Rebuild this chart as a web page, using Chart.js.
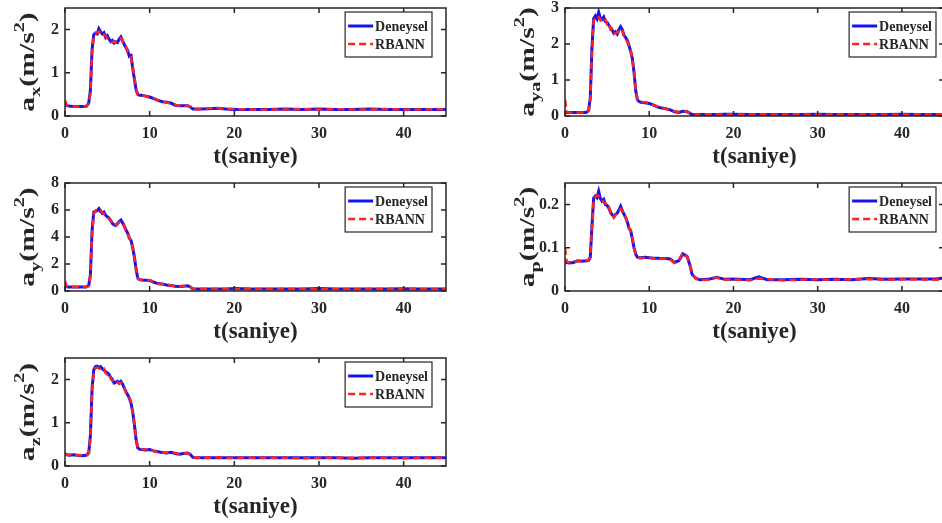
<!DOCTYPE html>
<html>
<head>
<meta charset="utf-8">
<script src="https://cdn.jsdelivr.net/npm/chart.js@4.4.1/dist/chart.umd.min.js"></script>
<style>
  html, body { margin: 0; padding: 0; background: #fff; }
  body { width: 942px; height: 523px; overflow: hidden; position: relative; }
  .panel { position: absolute; }
</style>
</head>
<body>
<div class="panel" style="left:0;top:0"><canvas id="axChart" width="460" height="175"></canvas></div>
<div class="panel" style="left:0;top:175px"><canvas id="ayChart" width="460" height="175"></canvas></div>
<div class="panel" style="left:0;top:350px"><canvas id="azChart" width="460" height="173"></canvas></div>
<div class="panel" style="left:480px;top:0"><canvas id="ayaChart" width="480" height="175"></canvas></div>
<div class="panel" style="left:480px;top:175px"><canvas id="apChart" width="480" height="175"></canvas></div>
<script>
// time axis (s), shared by all panels
const time = [
    0, 0.2, 0.5, 1, 1.5, 2, 2.5, 2.8,
    3.0, 3.2, 3.4, 3.6, 3.8, 4.0, 4.2, 4.4,
    4.6, 4.8, 5.0, 5.2, 5.4, 5.6, 5.8, 6.0,
    6.2, 6.4, 6.6, 6.8, 7.0, 7.2, 7.4, 7.6,
    7.8, 8.0, 8.2, 8.4, 8.6, 8.8, 9.0, 9.5,
    10, 10.5, 11, 11.5, 12, 12.5, 13, 13.5,
    14, 14.5, 14.8, 15.1, 15.5, 16, 17, 18,
    19, 20, 22, 23, 24, 26, 28, 30,
    32, 34, 36, 38, 40, 42, 44, 45
];

const axDeneysel = [
    0.30, 0.24, 0.23, 0.22, 0.22, 0.22, 0.22, 0.30,
    0.60, 1.55, 1.88, 1.92, 1.90, 2.02, 1.95, 1.90,
    1.93, 1.82, 1.86, 1.78, 1.72, 1.75, 1.69, 1.72,
    1.70, 1.78, 1.83, 1.74, 1.66, 1.58, 1.52, 1.38,
    1.40, 1.10, 0.85, 0.60, 0.50, 0.48, 0.48, 0.46,
    0.44, 0.40, 0.36, 0.33, 0.32, 0.30, 0.25, 0.24,
    0.24, 0.24, 0.21, 0.16, 0.16, 0.16, 0.17, 0.18,
    0.16, 0.15, 0.15, 0.15, 0.15, 0.16, 0.15, 0.16,
    0.15, 0.15, 0.16, 0.15, 0.15, 0.15, 0.15, 0.15
];
const axRbann = [
    0.36, 0.25, 0.23, 0.22, 0.22, 0.21, 0.22, 0.28,
    0.55, 1.50, 1.85, 1.90, 1.95, 1.96, 1.92, 1.94,
    1.88, 1.85, 1.80, 1.75, 1.74, 1.70, 1.72, 1.70,
    1.73, 1.75, 1.80, 1.76, 1.63, 1.60, 1.48, 1.42,
    1.35, 1.15, 0.88, 0.62, 0.51, 0.48, 0.47, 0.47,
    0.42, 0.41, 0.35, 0.34, 0.31, 0.29, 0.26, 0.24,
    0.25, 0.23, 0.22, 0.17, 0.15, 0.16, 0.18, 0.18,
    0.16, 0.16, 0.15, 0.14, 0.15, 0.15, 0.16, 0.15,
    0.16, 0.15, 0.15, 0.16, 0.15, 0.15, 0.16, 0.15
];

const ayDeneysel = [
    0.40, 0.32, 0.30, 0.30, 0.30, 0.30, 0.30, 0.40,
    1.20, 4.50, 5.85, 5.90, 5.95, 6.10, 5.90, 5.75,
    5.85, 5.60, 5.50, 5.40, 5.20, 5.00, 4.90, 4.85,
    5.00, 5.15, 5.26, 5.05, 4.80, 4.52, 4.30, 3.90,
    3.75, 3.20, 2.50, 1.60, 0.95, 0.85, 0.82, 0.80,
    0.78, 0.65, 0.55, 0.52, 0.45, 0.40, 0.35, 0.34,
    0.36, 0.38, 0.30, 0.15, 0.14, 0.14, 0.14, 0.15,
    0.15, 0.18, 0.15, 0.14, 0.14, 0.15, 0.14, 0.18,
    0.14, 0.14, 0.15, 0.15, 0.17, 0.14, 0.14, 0.14
];
const ayRbann = [
    0.75, 0.34, 0.30, 0.29, 0.30, 0.30, 0.29, 0.36,
    1.10, 4.30, 5.70, 5.95, 5.85, 5.95, 6.00, 5.80,
    5.70, 5.65, 5.45, 5.35, 5.25, 5.05, 4.85, 4.90,
    4.95, 5.10, 5.15, 5.00, 4.85, 4.45, 4.20, 3.95,
    3.70, 3.30, 2.45, 1.65, 0.98, 0.84, 0.83, 0.82,
    0.80, 0.66, 0.54, 0.50, 0.46, 0.40, 0.36, 0.33,
    0.37, 0.36, 0.31, 0.16, 0.14, 0.15, 0.14, 0.15,
    0.14, 0.15, 0.14, 0.15, 0.15, 0.14, 0.15, 0.15,
    0.15, 0.14, 0.14, 0.15, 0.15, 0.15, 0.14, 0.15
];

const azDeneysel = [
    0.28, 0.26, 0.25, 0.26, 0.25, 0.24, 0.25, 0.30,
    0.70, 1.80, 2.23, 2.30, 2.31, 2.28, 2.30, 2.25,
    2.22, 2.18, 2.16, 2.12, 2.05, 2.00, 1.92, 1.94,
    1.96, 1.92, 1.96, 1.90, 1.80, 1.72, 1.65, 1.57,
    1.45, 1.25, 0.95, 0.60, 0.42, 0.39, 0.38, 0.37,
    0.38, 0.35, 0.33, 0.31, 0.30, 0.32, 0.29, 0.27,
    0.29, 0.30, 0.27, 0.20, 0.19, 0.19, 0.19, 0.19,
    0.19, 0.19, 0.19, 0.19, 0.19, 0.19, 0.19, 0.19,
    0.19, 0.18, 0.19, 0.19, 0.19, 0.19, 0.19, 0.19
];
const azRbann = [
    0.30, 0.26, 0.26, 0.25, 0.25, 0.25, 0.24, 0.28,
    0.65, 1.75, 2.20, 2.27, 2.28, 2.26, 2.24, 2.22,
    2.25, 2.15, 2.12, 2.14, 2.02, 1.98, 1.95, 1.92,
    1.94, 1.90, 1.93, 1.88, 1.82, 1.70, 1.62, 1.58,
    1.48, 1.20, 0.98, 0.62, 0.43, 0.40, 0.39, 0.38,
    0.40, 0.34, 0.32, 0.31, 0.30, 0.31, 0.30, 0.28,
    0.30, 0.29, 0.26, 0.21, 0.19, 0.19, 0.19, 0.20,
    0.19, 0.19, 0.19, 0.19, 0.19, 0.19, 0.18, 0.19,
    0.19, 0.19, 0.19, 0.19, 0.18, 0.19, 0.19, 0.19
];

const ayaDeneysel = [
    0.12, 0.10, 0.10, 0.10, 0.10, 0.10, 0.10, 0.15,
    0.50, 1.90, 2.70, 2.78, 2.70, 2.88, 2.72, 2.68,
    2.75, 2.62, 2.60, 2.52, 2.45, 2.38, 2.30, 2.34,
    2.28, 2.40, 2.48, 2.40, 2.25, 2.18, 2.10, 1.95,
    1.80, 1.60, 1.20, 0.70, 0.45, 0.40, 0.38, 0.37,
    0.35, 0.30, 0.25, 0.22, 0.20, 0.17, 0.12, 0.10,
    0.13, 0.12, 0.08, 0.04, 0.04, 0.04, 0.04, 0.04,
    0.05, 0.05, 0.04, 0.04, 0.04, 0.04, 0.04, 0.05,
    0.04, 0.04, 0.04, 0.04, 0.05, 0.04, 0.04, 0.04
];
const ayaRbann = [
    0.45, 0.12, 0.10, 0.09, 0.10, 0.10, 0.09, 0.13,
    0.45, 1.80, 2.65, 2.72, 2.78, 2.75, 2.66, 2.72,
    2.65, 2.68, 2.55, 2.58, 2.40, 2.42, 2.28, 2.30,
    2.32, 2.35, 2.42, 2.38, 2.22, 2.20, 2.05, 1.98,
    1.82, 1.55, 1.25, 0.72, 0.46, 0.41, 0.39, 0.38,
    0.36, 0.31, 0.26, 0.21, 0.20, 0.16, 0.13, 0.11,
    0.12, 0.13, 0.08, 0.05, 0.04, 0.04, 0.05, 0.04,
    0.04, 0.05, 0.04, 0.05, 0.04, 0.04, 0.05, 0.04,
    0.05, 0.04, 0.05, 0.04, 0.04, 0.05, 0.04, 0.05
];

const apDeneysel = [
    0.070, 0.066, 0.065, 0.066, 0.070, 0.069, 0.070, 0.071,
    0.078, 0.150, 0.215, 0.220, 0.216, 0.231, 0.214, 0.208,
    0.212, 0.200, 0.198, 0.192, 0.183, 0.176, 0.172, 0.178,
    0.180, 0.188, 0.196, 0.186, 0.178, 0.170, 0.160, 0.145,
    0.140, 0.120, 0.100, 0.085, 0.078, 0.077, 0.077, 0.078,
    0.077, 0.076, 0.076, 0.075, 0.075, 0.074, 0.066, 0.070,
    0.086, 0.080, 0.062, 0.038, 0.030, 0.026, 0.027, 0.032,
    0.027, 0.028, 0.026, 0.033, 0.026, 0.026, 0.027, 0.026,
    0.027, 0.026, 0.029, 0.027, 0.028, 0.028, 0.028, 0.030
];
const apRbann = [
    0.100, 0.068, 0.066, 0.067, 0.069, 0.070, 0.069, 0.072,
    0.080, 0.145, 0.212, 0.218, 0.222, 0.220, 0.216, 0.212,
    0.205, 0.204, 0.194, 0.195, 0.180, 0.180, 0.170, 0.176,
    0.182, 0.185, 0.190, 0.188, 0.175, 0.172, 0.155, 0.148,
    0.138, 0.122, 0.098, 0.086, 0.079, 0.077, 0.076, 0.077,
    0.078, 0.075, 0.077, 0.074, 0.076, 0.073, 0.065, 0.071,
    0.088, 0.078, 0.064, 0.040, 0.029, 0.025, 0.026, 0.031,
    0.026, 0.027, 0.025, 0.029, 0.027, 0.025, 0.026, 0.027,
    0.026, 0.027, 0.028, 0.026, 0.027, 0.027, 0.026, 0.027
];

const xTicks = [0, 10, 20, 30, 40];
const axTicks = [0, 1, 2];
const ayTicks = [0, 2, 4, 6, 8];
const azTicks = [0, 1, 2];
const ayaTicks = [0, 1, 2, 3];
const apTicks = [0, 0.1, 0.2];

const seriesLabels = ['Deneysel', 'RBANN'];
const xTitle = 't(saniye)';

const FONT = '"Liberation Serif", "Times New Roman", serif';
const INK = '#262626';
const BLUE = '#1414f0';
const RED = '#ff2222';

function toPoints(ys) {
    return ys.map((y, i) => ({ x: time[i], y: y }));
}

// MATLAB-like box with inward ticks, axis titles and legend
const matlabPlugin = {
    id: 'matlabBox',
    afterDraw(chart) {
        const ctx = chart.ctx;
        const a = chart.chartArea;
        const cfg = chart.options.plugins.matlabBox;
        const xs = chart.scales.x, ys = chart.scales.y;
        ctx.save();
        ctx.strokeStyle = INK;
        ctx.lineWidth = 1.5;
        ctx.strokeRect(a.left, a.top, a.right - a.left, a.bottom - a.top);
        ctx.beginPath();
        xs.ticks.forEach(t => {
            const px = xs.getPixelForValue(t.value);
            ctx.moveTo(px, a.bottom); ctx.lineTo(px, a.bottom - 5);
            ctx.moveTo(px, a.top); ctx.lineTo(px, a.top + 5);
        });
        ys.ticks.forEach(t => {
            const py = ys.getPixelForValue(t.value);
            ctx.moveTo(a.left, py); ctx.lineTo(a.left + 5, py);
            ctx.moveTo(a.right, py); ctx.lineTo(a.right - 5, py);
        });
        ctx.stroke();

        // x title
        ctx.fillStyle = INK;
        ctx.font = 'bold 23px ' + FONT;
        ctx.textAlign = 'center';
        ctx.textBaseline = 'middle';
        ctx.fillText(xTitle, (a.left + a.right) / 2, a.bottom + 41);

        // y title: a_sub (m/s^2), rotated
        const big = 22, small = 15;
        const parts = [
            { t: 'a', f: big, dy: 0 },
            { t: cfg.sub, f: small, dy: 6 },
            { t: '(m/s', f: big, dy: 0 },
            { t: '2', f: small, dy: -10 },
            { t: ')', f: big, dy: 0 }
        ];
        let total = 0;
        parts.forEach(p => {
            ctx.font = 'bold ' + p.f + 'px ' + FONT;
            p.w = ctx.measureText(p.t).width;
            total += p.w;
        });
        ctx.save();
        ctx.translate(a.left - 36, (a.top + a.bottom) / 2);
        ctx.rotate(-Math.PI / 2);
        ctx.scale(1.35, 1);
        ctx.textAlign = 'left';
        ctx.textBaseline = 'alphabetic';
        let cx = -total / 2;
        parts.forEach(p => {
            ctx.font = 'bold ' + p.f + 'px ' + FONT;
            ctx.fillText(p.t, cx, 5 + p.dy);
            cx += p.w;
        });
        ctx.restore();

        // legend
        ctx.font = 'bold 14px ' + FONT;
        const tw = Math.max(...seriesLabels.map(s => ctx.measureText(s).width));
        const bw = 31 + tw + 3, bh = 45;
        const bx = a.right - cfg.legendInset - bw, by = a.top + 4;
        ctx.fillStyle = '#fff';
        ctx.fillRect(bx, by, bw, bh);
        ctx.lineWidth = 1.2;
        ctx.strokeStyle = INK;
        ctx.strokeRect(bx, by, bw, bh);
        chart.data.datasets.forEach((ds, i) => {
            const ly = by + 14 + i * 18;
            ctx.beginPath();
            ctx.strokeStyle = ds.borderColor;
            ctx.lineWidth = ds.borderWidth;
            ctx.setLineDash(ds.borderDash || []);
            ctx.moveTo(bx + 3, ly); ctx.lineTo(bx + 28, ly);
            ctx.stroke();
            ctx.setLineDash([]);
            ctx.fillStyle = INK;
            ctx.textAlign = 'left';
            ctx.textBaseline = 'middle';
            ctx.fillText(ds.label, bx + 30, ly + 1);
        });
        ctx.restore();
    }
};

function createPanel(canvasId, sub, deneysel, rbann, yMax, yTicks, yAxisWidth, rightPad, legendInset) {
    const canvas = document.getElementById(canvasId);
    return new Chart(canvas.getContext('2d'), {
        type: 'line',
        data: {
            datasets: [{
                label: seriesLabels[0],
                data: toPoints(deneysel),
                borderColor: BLUE,
                borderWidth: 3,
                pointRadius: 0,
                order: 1
            }, {
                label: seriesLabels[1],
                data: toPoints(rbann),
                borderColor: RED,
                borderWidth: 2.5,
                borderDash: [7, 4],
                pointRadius: 0,
                order: 0
            }]
        },
        options: {
            responsive: false,
            animation: false,
            devicePixelRatio: 1,
            layout: { padding: { top: 8, right: rightPad, left: 0, bottom: 0 } },
            plugins: {
                legend: { display: false },
                tooltip: { enabled: false },
                matlabBox: { sub: sub, legendInset: legendInset }
            },
            scales: {
                x: {
                    type: 'linear',
                    min: 0, max: 45,
                    grid: { display: false, drawTicks: false },
                    border: { display: false },
                    afterBuildTicks: s => { s.ticks = xTicks.map(v => ({ value: v })); },
                    afterFit: s => {
                        s.height = canvas.height - 8 - 108;
                        s.paddingLeft = 0;
                        s.paddingRight = 0;
                    },
                    ticks: {
                        padding: 8,
                        color: INK,
                        maxRotation: 0,
                        font: { family: FONT, size: 16, weight: 'bold' }
                    }
                },
                y: {
                    min: 0, max: yMax,
                    grid: { display: false, drawTicks: false },
                    border: { display: false },
                    afterBuildTicks: s => { s.ticks = yTicks.map(v => ({ value: v })); },
                    afterFit: s => {
                        s.width = yAxisWidth;
                        s.paddingTop = 0;
                        s.paddingBottom = 0;
                    },
                    ticks: {
                        padding: 6,
                        color: INK,
                        font: { family: FONT, size: 16, weight: 'bold' },
                        callback: v => String(v)
                    }
                }
            }
        },
        plugins: [matlabPlugin]
    });
}

createPanel('axChart', 'x', axDeneysel, axRbann, 2.5, axTicks, 65, 14, 14);
createPanel('ayChart', 'y', ayDeneysel, ayRbann, 8, ayTicks, 65, 14, 14);
createPanel('azChart', 'z', azDeneysel, azRbann, 2.5, azTicks, 65, 14, 14);
createPanel('ayaChart', 'ya', ayaDeneysel, ayaRbann, 3, ayaTicks, 85, 16, 8);
createPanel('apChart', 'p', apDeneysel, apRbann, 0.25, apTicks, 85, 16, 8);
</script>
</body>
</html>
